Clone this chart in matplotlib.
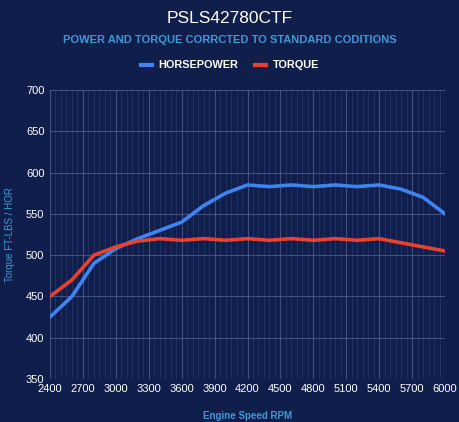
import numpy as np
import matplotlib.pyplot as plt
import matplotlib.transforms as mtransforms
from matplotlib.ticker import MultipleLocator

# Datos
rpm = [2400, 2600, 2800, 3000, 3200, 3400, 3600, 3800, 4000, 4200,
       4400, 4600, 4800, 5000, 5200, 5400, 5600, 5800, 6000]
horsepower = [425, 450, 490, 508, 520, 530, 540, 560, 575, 585,
              583, 585, 583, 585, 583, 585, 580, 570, 550]
torque = [450, 470, 500, 510, 517, 520, 518, 520, 518, 520,
          518, 520, 518, 520, 518, 520, 515, 510, 505]
x_ticks = list(range(2400, 6001, 300))

bg = '#101e4b'
azul = '#3d84f0'
rojo = '#e8412f'
celeste = '#3d9ad8'

plt.rcParams['font.family'] = ['Liberation Sans', 'DejaVu Sans']

fig = plt.figure(figsize=(4.6, 4.22), dpi=100, facecolor=bg)
ax = fig.add_axes([0.1087, 0.1019, 0.8587, 0.6848], facecolor=bg)

ax.plot(rpm, horsepower, color=azul, lw=2.6, label='HORSEPOWER', solid_joinstyle='round')
ax.plot(rpm, torque, color=rojo, lw=2.6, label='TORQUE', solid_joinstyle='round')

ax.set_xlim(2400, 6000)
ax.set_ylim(350, 700)
ax.set_xticks(x_ticks)
ax.xaxis.set_minor_locator(MultipleLocator(50))
ax.yaxis.set_major_locator(MultipleLocator(50))

ax.grid(which='major', axis='both', color='#55628e', lw=0.8, alpha=0.75)
ax.grid(which='minor', axis='x', color='#25336a', lw=0.7, alpha=0.8)
ax.set_axisbelow(True)

for s in ax.spines.values():
    s.set_visible(False)
ax.tick_params(which='both', length=0, colors='white', labelsize=8)
ax.tick_params(axis='x', pad=3.5)
ax.tick_params(axis='y', pad=4)

# el 350 va un poco mas arriba para no pisar el 2400
fig.canvas.draw()
lbl = ax.get_yticklabels()[0]
lbl.set_transform(lbl.get_transform() + mtransforms.ScaledTranslation(0, 5 / 72, fig.dpi_scale_trans))

ax.set_xlabel('Engine Speed RPM', color=celeste, fontsize=7, fontweight='bold', labelpad=12)
ax.set_ylabel('Torque FT-LBS / HOR', color=celeste, fontsize=7, labelpad=8)

fig.text(0.5, 0.957, 'PSLS42780CTF', color='white', fontsize=12.5, ha='center', va='center')
fig.text(0.5, 0.905, 'POWER AND TORQUE CORRCTED TO STANDARD CODITIONS',
         color=celeste, fontsize=8, fontweight='bold', ha='center', va='center')

leg = fig.legend(loc='center', bbox_to_anchor=(0.5, 0.845), ncol=2, frameon=False,
                 fontsize=7.8, handlelength=1.0, handleheight=0.4, columnspacing=1.6,
                 handletextpad=0.6)
for t in leg.get_texts():
    t.set_color('white')
    t.set_fontweight('bold')
for h in leg.get_lines():
    h.set_linewidth(3)

fig.savefig('out.png', dpi=100, facecolor=bg)
